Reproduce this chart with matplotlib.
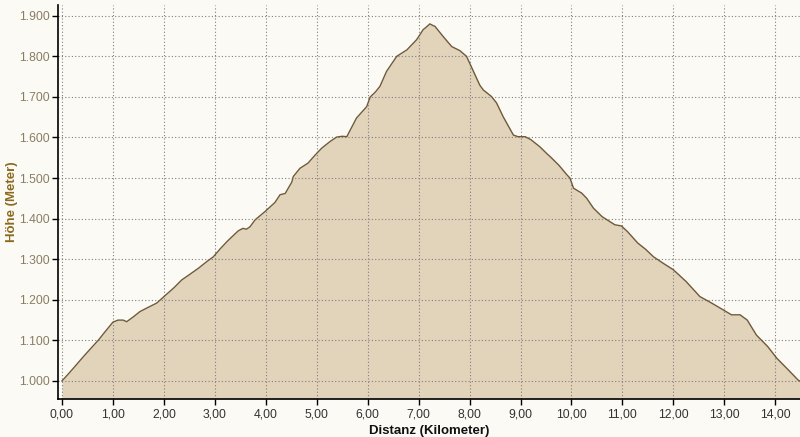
import matplotlib
matplotlib.use("Agg")
import matplotlib.pyplot as plt
from matplotlib.ticker import FuncFormatter, FixedLocator

km = [0.00, 0.20, 0.42, 0.60, 0.71, 0.85, 1.00, 1.10, 1.20, 1.27, 1.40, 1.53, 1.70, 1.86,
      2.02, 2.20, 2.35, 2.50, 2.68, 2.85, 2.97, 3.10, 3.25, 3.46, 3.55, 3.62, 3.69, 3.79,
      3.98, 4.18, 4.28, 4.38, 4.51, 4.54, 4.67, 4.83, 4.97, 5.10, 5.26, 5.39, 5.50, 5.59,
      5.78, 5.98, 6.05, 6.15, 6.24, 6.37, 6.57, 6.77, 6.96, 7.09, 7.15, 7.22, 7.28, 7.32,
      7.48, 7.65, 7.81, 7.94, 8.05, 8.20, 8.27, 8.43, 8.53, 8.66, 8.86, 8.95, 9.09, 9.20,
      9.38, 9.51, 9.58, 9.75, 9.91, 9.97, 10.04, 10.20, 10.30, 10.43, 10.60, 10.85, 10.98,
      11.10, 11.30, 11.45, 11.61, 11.80, 12.00, 12.25, 12.52, 12.75, 12.98, 13.14, 13.31,
      13.45, 13.63, 13.85, 14.03, 14.25, 14.45, 14.48]
elev = [1000, 1028, 1060, 1085, 1100, 1122, 1145, 1150, 1150, 1146, 1158, 1171, 1182, 1192,
        1210, 1230, 1249, 1262, 1278, 1295, 1306, 1325, 1345, 1370, 1376, 1374, 1380, 1397,
        1417, 1440, 1459, 1462, 1490, 1504, 1524, 1537, 1557, 1574, 1590, 1601, 1603, 1602,
        1648, 1676, 1700, 1712, 1726, 1763, 1800, 1816, 1841, 1866, 1872, 1880, 1876, 1874,
        1849, 1824, 1814, 1800, 1770, 1729, 1717, 1701, 1685, 1651, 1606, 1602, 1602, 1595,
        1577, 1561, 1553, 1532, 1508, 1500, 1475, 1463, 1450, 1426, 1405, 1385, 1382,
        1368, 1340, 1325, 1306, 1290, 1274, 1245, 1208, 1192, 1175, 1163, 1163,
        1150, 1113, 1085, 1056, 1028, 1002, 1000]

x_ticks = [0, 1, 2, 3, 4, 5, 6, 7, 8, 9, 10, 11, 12, 13, 14]
y_ticks = [1000, 1100, 1200, 1300, 1400, 1500, 1600, 1700, 1800, 1900]

bg = "#FCFAF5"
fig = plt.figure(figsize=(8.0, 4.37), dpi=100, facecolor=bg)
ax = fig.add_axes([0.0725, 0.087, 0.9275, 0.902])
ax.set_facecolor(bg)

ax.set_xlim(-0.0785, 14.485)
ax.set_ylim(955.6, 1927)

ax.fill_between(km, elev, 955.6, color="#E2D3BB", linewidth=0, zorder=2)
ax.plot(km, elev, color="#6E5A3A", linewidth=1.0, zorder=3)

ax.xaxis.set_major_locator(FixedLocator(x_ticks))
ax.yaxis.set_major_locator(FixedLocator(y_ticks))
ax.xaxis.set_major_formatter(FuncFormatter(lambda v, p: f"{v:.2f}".replace(".", ",")))
ax.yaxis.set_major_formatter(FuncFormatter(lambda v, p: f"{int(v):,}".replace(",", ".")))

ax.grid(True, color="#7f7f7f", linestyle=(0, (1, 2)), linewidth=0.8, zorder=4)
ax.set_axisbelow(False)

for s in ["top", "right"]:
    ax.spines[s].set_visible(False)
for s in ["left", "bottom"]:
    ax.spines[s].set_color("black")
    ax.spines[s].set_linewidth(1.2)
    ax.spines[s].set_zorder(5)

font = "Liberation Sans"
ax.tick_params(axis="y", direction="out", length=4, width=1, color="black",
               labelsize=8.8, labelcolor="#8A7E62", pad=2)
ax.tick_params(axis="x", direction="out", length=4, width=1, color="black",
               labelsize=8.8, labelcolor="#333333", pad=3)
for lab in ax.get_xticklabels() + ax.get_yticklabels():
    lab.set_family(font)

ax.set_xlabel("Distanz (Kilometer)", fontsize=9.5, fontweight="bold", family=font,
              color="#111111", labelpad=3)
ax.set_ylabel("Höhe (Meter)", fontsize=9.5, fontweight="bold", family=font,
              color="#8B6A1E")
ax.yaxis.set_label_coords(-0.054, 0.5)

fig.savefig("out.png", dpi=100, facecolor=bg)
